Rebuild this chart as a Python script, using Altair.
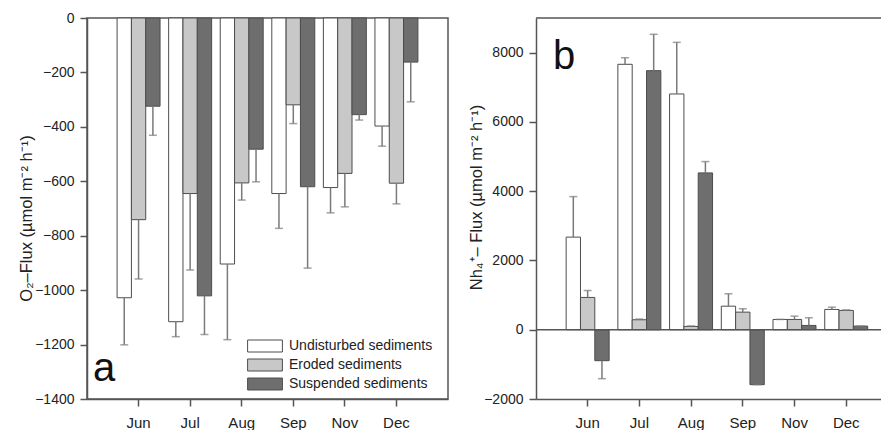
import altair as alt
import pandas as pd

months = ["Jun", "Jul", "Aug", "Sep", "Nov", "Dec"]
series = ["Undisturbed sediments", "Eroded sediments", "Suspended sediments"]

# Panel a: O2 flux (umol m-2 h-1), mean and SD
o2_undisturbed = [-1028, -1116, -904, -645, -623, -397]
o2_undisturbed_sd = [173, 55, 278, 128, 93, 74]
o2_eroded = [-741, -645, -606, -319, -571, -607]
o2_eroded_sd = [218, 281, 63, 69, 123, 76]
o2_suspended = [-324, -1021, -482, -620, -355, -162]
o2_suspended_sd = [107, 142, 120, 299, 20, 146]

# Panel b: NH4+ flux (umol m-2 h-1), mean and SD
nh4_undisturbed = [2674, 7663, 6807, 680, 297, 586]
nh4_undisturbed_sd = [1170, 190, 1490, 358, 0, 66]
nh4_eroded = [932, 288, 95, 508, 297, 557]
nh4_eroded_sd = [200, 20, 15, 97, 96, 15]
nh4_suspended = [-894, 7480, 4528, -1586, 124, 105]
nh4_suspended_sd = [519, 1049, 327, 0, 222, 0]

o2_ticks = list(range(-1400, 1, 200))
nh4_ticks = list(range(-2000, 9001, 500))

fills = ["#ffffff", "#c8c8c8", "#6e6e6e"]
EDGE = "#4d4d4d"
AXIS = "#555555"
ERR = "#7a7a7a"
TXT = "#222222"
FONT = "Liberation Sans"


def build(vals, sds):
    rows = []
    for s, v, e in zip(series, vals, sds):
        for m, val, sd in zip(months, v, e):
            sign = 1 if val >= 0 else -1
            rows.append({"month": m, "series": s, "value": val, "end": val + sign * sd})
    return pd.DataFrame(rows)


df_a = build([o2_undisturbed, o2_eroded, o2_suspended],
             [o2_undisturbed_sd, o2_eroded_sd, o2_suspended_sd])
df_b = build([nh4_undisturbed, nh4_eroded, nh4_suspended],
             [nh4_undisturbed_sd, nh4_eroded_sd, nh4_suspended_sd])

W_A, W_B, H = 361, 362, 381


def xenc():
    return alt.X("month:N", sort=months,
                 scale=alt.Scale(domain=months, paddingInner=0, paddingOuter=0.5),
                 axis=alt.Axis(title=None, labelAngle=0, tickSize=7, labelPadding=9,
                               labelFontSize=15))


def xoff():
    return alt.XOffset("series:N", sort=series,
                       scale=alt.Scale(domain=series, paddingInner=0, paddingOuter=0.3))


def panel(df, ydom, yticks, ytitle, label_expr, legend, title_x, title_y, letter, lx, ly):
    yscale = alt.Scale(domain=ydom, nice=False, zero=False)
    yaxis = alt.Axis(title=ytitle, values=yticks, format="d", tickSize=7, labelPadding=6,
                     labelExpr=label_expr, titleX=title_x, titleY=title_y,
                     titleAngle=-90, titleAlign="center", titleBaseline="bottom")
    base = alt.Chart(df)
    bars = base.mark_bar(stroke=EDGE, strokeWidth=1).encode(
        x=xenc(), xOffset=xoff(),
        y=alt.Y("value:Q", scale=yscale, axis=yaxis, stack=None),
        color=alt.Color("series:N", sort=series,
                        scale=alt.Scale(domain=series, range=fills), legend=legend),
    )
    stems = base.mark_rule(color=ERR, strokeWidth=1.5).encode(
        x=xenc(), xOffset=xoff(),
        y=alt.Y("value:Q", scale=yscale),
        y2="end:Q",
    )
    caps = base.mark_tick(color=ERR, thickness=1.5, size=8).encode(
        x=xenc(), xOffset=xoff(),
        y=alt.Y("end:Q", scale=yscale),
    )
    let = alt.Chart(pd.DataFrame({"t": [letter]})).mark_text(
        font=FONT, fontSize=40, align="left", baseline="alphabetic", color="#111"
    ).encode(x=alt.value(lx), y=alt.value(ly), text="t:N")
    return [bars, stems, caps, let]


legend_a = alt.Legend(
    title=None, orient="none", legendX=171, legendY=321,
    symbolType="M-2.9,-1H2.9V1H-2.9Z", symbolSize=144, symbolStrokeColor=EDGE,
    symbolStrokeWidth=1, labelOffset=17, rowPadding=3, padding=0,
    labelFont=FONT, labelFontSize=14, labelColor=TXT,
)

MINUS = "replace(datum.label, '-', '−')"

layers_a = panel(df_a, [-1400, 0], o2_ticks, "O₂–Flux (µmol m⁻² h⁻¹)", MINUS,
                 legend_a, -53, 200, "a", 6, 363)
chart_a = alt.layer(*layers_a).properties(
    width=W_A, height=H,
    view=alt.ViewBackground(stroke=AXIS, strokeWidth=1.5),
)

layers_b = panel(df_b, [-2000, 9000], nh4_ticks, "Nh₄⁺– Flux  (µmol  m⁻² h⁻¹)",
                 "datum.value % 2000 == 0 ? " + MINUS + " : ''",
                 None, -52, 179, "b", 17, 51)
one = pd.DataFrame({"v": [0]})
zero_line = alt.Chart(one).mark_rule(color=AXIS, strokeWidth=1.5).encode(y=alt.datum(0))
top_line = alt.Chart(one).mark_rule(color=AXIS, strokeWidth=1.5).encode(
    x=alt.value(0), x2=alt.value(W_B), y=alt.value(0))
chart_b = alt.layer(*layers_b, zero_line, top_line).properties(
    width=W_B, height=H,
    view=alt.ViewBackground(stroke=None),
)

chart = alt.hconcat(chart_a, chart_b, spacing=19).resolve_scale(
    color="independent", y="independent"
).properties(
    padding={"left": 9, "top": 2, "right": -18, "bottom": 0}
).configure_view(stroke=None).configure_axis(
    domainColor=AXIS, domainWidth=1.5, tickColor=AXIS, tickWidth=1.5, grid=False,
    labelFont=FONT, labelFontSize=14, labelColor=TXT,
    titleFont=FONT, titleFontSize=16.5, titleFontWeight="normal", titleColor=TXT,
)

chart.save("out.html", embed_options={"renderer": "svg", "actions": False})
